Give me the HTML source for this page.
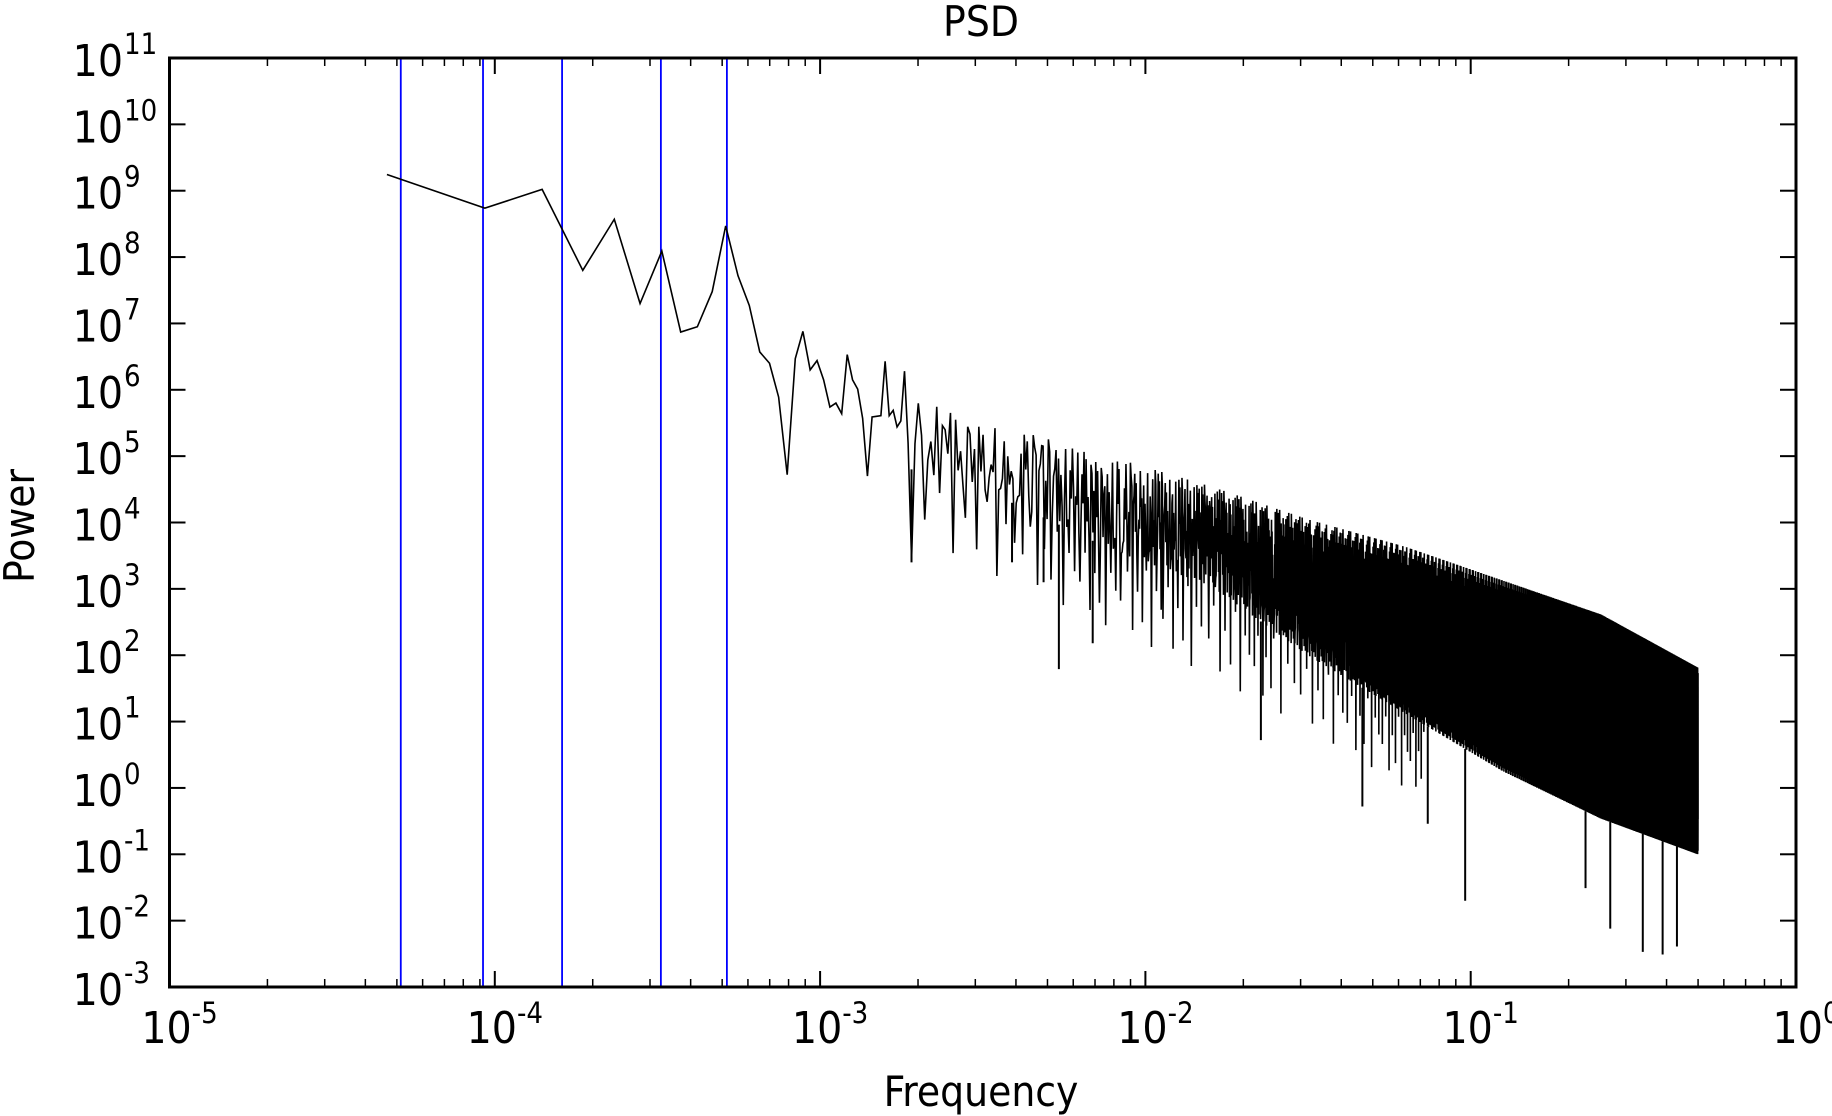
<!DOCTYPE html>
<html><head><meta charset="utf-8"><style>
html,body{margin:0;padding:0;background:#fff;}
svg{display:block;font-family:"DejaVu Sans","Liberation Sans",sans-serif;font-stretch:condensed;}
</style></head><body>
<svg id="chart" width="1832" height="1116" viewBox="0 0 1832 1116" xmlns="http://www.w3.org/2000/svg">
<rect width="1832" height="1116" fill="#fff"/>
<text x="981" y="36" font-size="42" text-anchor="middle">PSD</text>
<text x="981" y="1106" font-size="42" text-anchor="middle">Frequency</text>
<text x="0" y="0" font-size="42" text-anchor="middle" transform="translate(34,526) rotate(-90)">Power</text>
<g id="plot"></g>
<g id="axes"></g>
</svg>
<script>
// ---- data ----
const xDecades = [-5,-4,-3,-2,-1,0];
const yDecades = [-3,-2,-1,0,1,2,3,4,5,6,7,8,9,10,11];
const markerFreqs = [5.14e-5, 9.2e-5, 1.61e-4, 3.24e-4, 5.17e-4];
const freqStep = 4.66e-5;
const lowLogPower = [9.245,8.737,9.02,7.80,8.57,7.30,8.09,6.87,6.95,7.48,8.47,7.72,7.27,6.57,6.40,5.89,4.72,6.47,6.88,6.30,6.44,6.15,5.74,5.80,5.64,6.53,6.15,6.01,5.57,4.70,5.59,5.60,5.61,6.43,5.61,5.69,5.44,5.53,6.28,5.2,3.44];
const envLogFreq = [-2.7,-2.4,-2.1,-1.8,-1.5,-1.2,-0.9,-0.6,-0.301];
const envUpper = [5.77,5.33,4.9,4.46,3.93,3.49,2.96,2.44,1.65];
const envLower = [4.8,4.28,3.58,3.05,2.0,1.12,0.25,-0.46,-1.0];
const envDeep = [3.6,3.1,2.4,1.7,0.9,0.0,-0.9,-1.7,-2.3];
const dipLogFreq = [-2.719,-2.410,-2.313,-2.266,-2.162,-1.645,-1.333,-1.132,-1.017,-0.647,-0.571,-0.471,-0.410,-0.366];
const dipLogPower = [3.40,3.40,3.10,1.79,2.18,0.72,-0.28,-0.54,-1.70,-1.51,-2.12,-2.47,-2.51,-2.39];
const maxFreq = 0.5;

// ---- axes functions ----
const L=169.5,R=1796,T=58,B=987;
const X = lf => L + (lf+5)/5*(R-L);
const Y = lp => T + (11-lp)/14*(B-T);
const NS="http://www.w3.org/2000/svg";
function mk(tag, attrs, parent){const e=document.createElementNS(NS,tag);for(const k in attrs)e.setAttribute(k,attrs[k]);parent.appendChild(e);return e;}
const plot=document.getElementById('plot'), axes=document.getElementById('axes');
function interp(xs,ys,x){if(x<=xs[0])return ys[0];for(let i=1;i<xs.length;i++){if(x<=xs[i]){const t=(x-xs[i-1])/(xs[i]-xs[i-1]);return ys[i-1]+t*(ys[i]-ys[i-1]);}}return ys[ys.length-1];}

// markers
markerFreqs.forEach((f,i)=>{
  const l=mk('line',{x1:X(Math.log10(f)),x2:X(Math.log10(f)),y1:T,y2:B,stroke:'#0000ff','stroke-width':1.8},plot);
  
  
});

// psd line
let pts=[];
lowLogPower.forEach((p,i)=>{pts.push(X(Math.log10((i+1)*freqStep)).toFixed(2)+','+Y(p).toFixed(2));});
// drawing texture: band weights (0=lower,1=upper) and rare deep excursions (0..1 toward deep)
const pattern=[1,0.1,0.75,0.3,0.95,0.25,1.06,0.02,0.6,0.4,0.85,0.2,0.45,0.9,0.12,0.7,1.03,0.05,0.5,0.35,0.8,0.15,0.95,0.55,0.65,0.0];
const deepPattern=[0.6,0.2,0.9,0.4,0.75,0.1,1.0,0.3,0.5];
const nMax=Math.floor(maxFreq/freqStep);
let deepCount=0;
for(let k=lowLogPower.length+1;k<=nMax;k++){
  const lf=Math.log10(k*freqStep);
  const u=interp(envLogFreq,envUpper,lf), lo=interp(envLogFreq,envLower,lf), dp=interp(envLogFreq,envDeep,lf);
  const ppp = k*freqStep*Math.LN10/((R-L)/5)/freqStep; // points per pixel
  const step = Math.max(5, Math.round(ppp*5));
  let v;
  if(k%step===0){ v = lo-(lo-dp)*deepPattern[deepCount++%deepPattern.length]; }
  else { v = lo+(u-lo)*pattern[(k*7+Math.floor(k/26))%pattern.length]; }
  pts.push(X(lf).toFixed(2)+','+Y(v).toFixed(2));
}
const psd=mk('polyline',{points:pts.join(' '),fill:'none',stroke:'#000','stroke-width':1.6,'stroke-linejoin':'miter'},plot);


dipLogFreq.forEach((lf,i)=>{
  const lo=interp(envLogFreq,envLower,lf);
  const d=mk('line',{x1:X(lf),x2:X(lf),y1:Y(lo),y2:Y(dipLogPower[i]),stroke:'#000','stroke-width':2},plot);
  
  
});

// frame
const fr=mk('rect',{x:L,y:T,width:R-L,height:B-T,fill:'none',stroke:'#000','stroke-width':3},axes);


// x ticks
xDecades.forEach((d,i)=>{
  const x=X(d);
  mk('line',{x1:x,x2:x,y1:B,y2:B-16,stroke:'#000','stroke-width':2},axes);
  mk('line',{x1:x,x2:x,y1:T,y2:T+16,stroke:'#000','stroke-width':2},axes);
  const t=mk('text',{x:x+10,y:1043,'font-size':44,'text-anchor':'middle'},axes);
  
  
  t.innerHTML='10<tspan dy="-20" font-size="29">'+d+'</tspan>';
  if(i<xDecades.length-1){for(let m=2;m<=9;m++){const xm=X(d+Math.log10(m));
    mk('line',{x1:xm,x2:xm,y1:B,y2:B-8,stroke:'#000','stroke-width':1.5},axes);
    mk('line',{x1:xm,x2:xm,y1:T,y2:T+8,stroke:'#000','stroke-width':1.5},axes);}}
});
// y ticks
yDecades.forEach(d=>{
  const y=Y(d);
  mk('line',{x1:L,x2:L+16,y1:y,y2:y,stroke:'#000','stroke-width':2},axes);
  mk('line',{x1:R,x2:R-16,y1:y,y2:y,stroke:'#000','stroke-width':2},axes);
  const t=mk('text',{x:123,y:y+18,'font-size':44,'text-anchor':'end'},axes);
  
  
  t.textContent='10';
  const s=mk('text',{x:124,y:y-4,'font-size':29,'text-anchor':'start'},axes);
  
  
  s.textContent=String(d);
});
</script>
</body></html>
